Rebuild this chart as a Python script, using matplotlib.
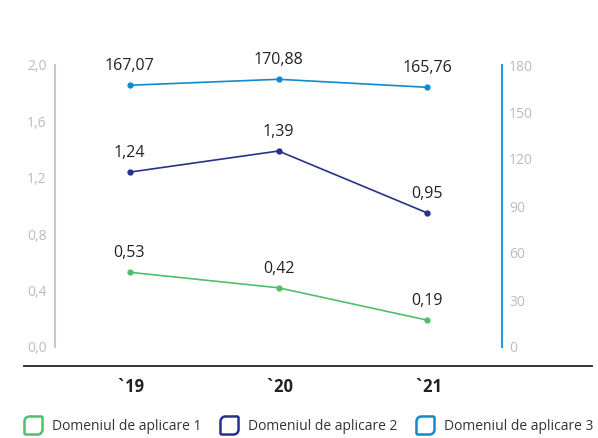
import numpy as np
import matplotlib
matplotlib.use('Agg')
from matplotlib import pyplot as plt
from matplotlib.path import Path
from matplotlib.lines import Line2D

years = ['`19', '`20', '`21']
dom1 = [0.53, 0.42, 0.19]
dom2 = [1.24, 1.39, 0.95]
dom3 = [167.07, 170.88, 165.76]
names = ['Domeniul de aplicare 1', 'Domeniul de aplicare 2', 'Domeniul de aplicare 3']
colors = ['#4fbf6b', '#27318a', '#1289cf']
left_ticks = [0.0, 0.4, 0.8, 1.2, 1.6, 2.0]
right_ticks = [0, 30, 60, 90, 120, 150, 180]

plt.rcParams['font.family'] = ['Open Sans', 'DejaVu Sans']


def fmt(v, nd=2):
    return ('%.*f' % (nd, v)).replace('.', ',')


def leaf_marker():
    # square outline, big rounding at top-left and bottom-right
    R, r = 0.55, 0.15
    k = 0.5523
    verts = [(-1 + R, 1), (1 - r, 1), (1 - r + r * k, 1), (1, 1 - r + r * k), (1, 1 - r),
             (1, -1 + R), (1, -1 + R - R * k), (1 - R + R * k, -1), (1 - R, -1),
             (-1 + r, -1), (-1 + r - r * k, -1), (-1, -1 + r - r * k), (-1, -1 + r),
             (-1, 1 - R), (-1, 1 - R + R * k), (-1 + R - R * k, 1), (-1 + R, 1)]
    codes = [Path.MOVETO, Path.LINETO, Path.CURVE4, Path.CURVE4, Path.CURVE4,
             Path.LINETO, Path.CURVE4, Path.CURVE4, Path.CURVE4,
             Path.LINETO, Path.CURVE4, Path.CURVE4, Path.CURVE4,
             Path.LINETO, Path.CURVE4, Path.CURVE4, Path.CURVE4]
    return Path(verts, codes)


fig = plt.figure(figsize=(5.98, 4.38), dpi=100)
ax = fig.add_axes([55 / 598, 91 / 438, 447 / 598, 282 / 438])
ax2 = ax.twinx()

x = np.arange(len(years))
for vals, c in [(dom1, colors[0]), (dom2, colors[1])]:
    ax.plot(x, vals, color=c, lw=1.2, marker='o', ms=3.5)
    for xi, v in zip(x, vals):
        ax.annotate(fmt(v), (xi, v), xytext=(0, 8), textcoords='offset points',
                    ha='center', va='bottom', fontsize=11.5, color='#222222')
ax2.plot(x, dom3, color=colors[2], lw=1.2, marker='o', ms=3.5)
for xi, v in zip(x, dom3):
    ax2.annotate(fmt(v), (xi, v), xytext=(0, 8), textcoords='offset points',
                 ha='center', va='bottom', fontsize=11.5, color='#222222')

ax.set_xlim(-0.5, 2.5)
ax.set_ylim(0, 2.0)
ax2.set_ylim(0, 180)
ax.set_yticks(left_ticks)
ax.set_yticklabels([fmt(t, 1) for t in left_ticks])
ax2.set_yticks(right_ticks)
ax.set_xticks(x)
ax.set_xticklabels(years, fontsize=12, fontweight='bold', color='#222222')
ax.tick_params(axis='x', length=0, pad=22)
ax.tick_params(axis='y', length=0, pad=6, labelsize=10, labelcolor='#bcbcbc')
ax2.tick_params(axis='y', length=0, pad=5, labelsize=10, labelcolor='#bcbcbc')

for a in (ax, ax2):
    for s in ('top', 'bottom'):
        a.spines[s].set_visible(False)
ax2.spines['left'].set_visible(False)
ax.spines['right'].set_visible(False)
ax.spines['left'].set_color('#c8c8c8')
ax.spines['left'].set_linewidth(1.5)
ax2.spines['right'].set_color('#2a9ad6')
ax2.spines['right'].set_linewidth(1.5)

# base line under the plot, wider than the axes
fig.add_artist(Line2D([24 / 598, 592 / 598], [72 / 438, 72 / 438],
                      color='#222222', lw=1.3, transform=fig.transFigure))

marker = leaf_marker()
handles = [Line2D([], [], ls='none', marker=marker, ms=13, mfc='white',
                  mec=c, mew=1.8) for c in colors]
leg = fig.legend(handles, names, loc='center', bbox_to_anchor=(0.518, 12 / 438),
                 ncol=3, frameon=False, fontsize=10, handletextpad=0.85,
                 columnspacing=1.5, handlelength=1.0)
for t in leg.get_texts():
    t.set_color('#333333')

fig.savefig('out.png', dpi=100)
